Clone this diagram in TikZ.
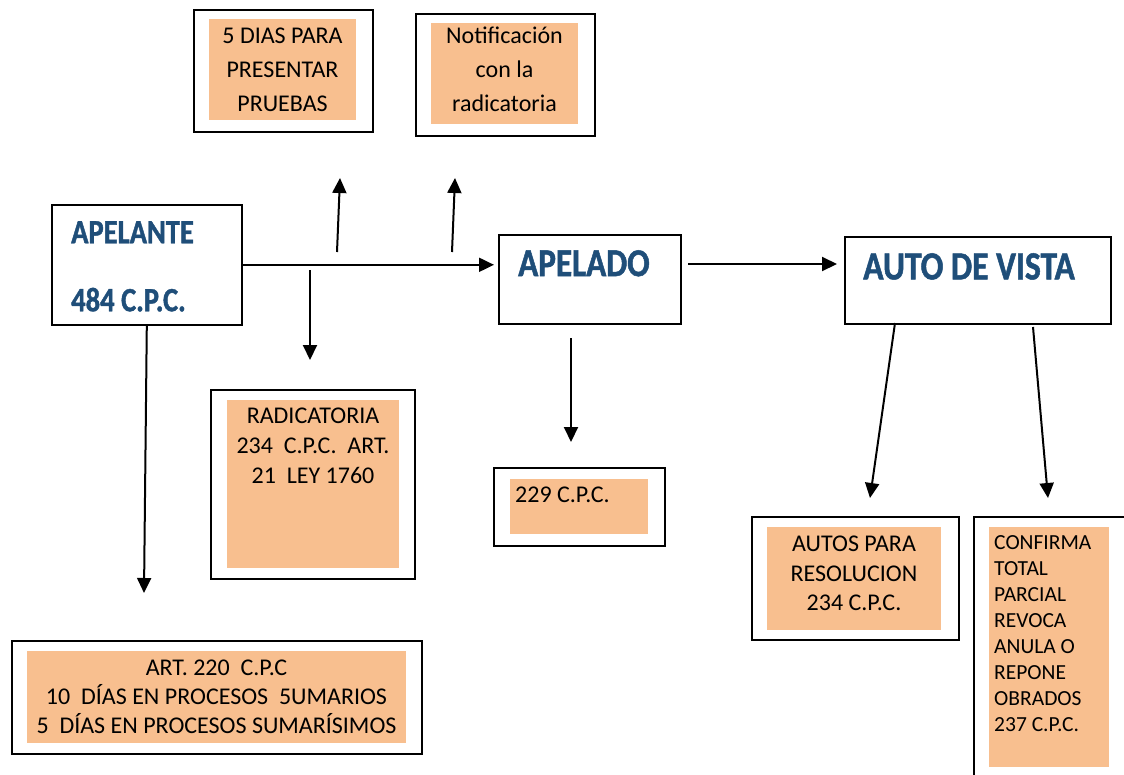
\documentclass[tikz,border=0pt]{standalone}
\usepackage{fontspec}
\setmainfont{Carlito}
\newfontfamily\headfont[FakeStretch=0.84,FakeBold=1.2]{Carlito}
\usetikzlibrary{arrows.meta}
\definecolor{boxorange}{HTML}{F8BF8F}
\definecolor{headblue}{HTML}{1F4E79}
\begin{document}
\begin{tikzpicture}[x=1pt,y=-1pt,
  outerbox/.style={draw=black, line width=2pt, anchor=north west, inner sep=0pt},
  mainbox/.style={draw=black, line width=1.6pt, anchor=north west, inner sep=0pt},
  fillbox/.style={fill=boxorange, draw=none, anchor=north west, inner sep=0pt},
  bodytxt/.style={inner sep=0pt, font=\fontsize{24}{30}\selectfont, align=center},
  headtxt/.style={inner sep=0pt, anchor=north west, text=headblue, font=\headfont\bfseries},
  arr/.style={line width=2pt, -{Triangle[length=15pt,width=14pt]}}
]
\useasboundingbox (0,0) rectangle (1124,774);
\clip (0,0) rectangle (1124,774);

% top boxes
\node[outerbox, minimum width=179, minimum height=122] (b1) at (193,9) {};
\node[fillbox, minimum width=147, minimum height=101] (i1) at (209,19) {};
\node[bodytxt, anchor=north, font=\fontsize{24}{34}\selectfont] (t1) at (282.5,28) {5 DIAS PARA\\PRESENTAR\\PRUEBAS};

\node[outerbox, minimum width=179, minimum height=122] (b2) at (415,13) {};
\node[fillbox, minimum width=147, minimum height=101] (i2) at (431,23) {};
\node[bodytxt, anchor=north, font=\fontsize{24}{34}\selectfont] (t2) at (504.5,27) {Notificación\\con la\\radicatoria};

% APELANTE
\node[mainbox, minimum width=190, minimum height=120] (apelante) at (51,204) {};
\node[headtxt, font=\headfont\bfseries\fontsize{34}{68}\selectfont, align=left] (tap) at (71,221) {APELANTE\\484 C.P.C.};

% RADICATORIA
\node[outerbox, minimum width=204, minimum height=189] (b3) at (210,389) {};
\node[fillbox, minimum width=172, minimum height=168] (i3) at (227,400) {};
\node[bodytxt, anchor=north] (t3) at (313,408) {RADICATORIA\\234\ \ C.P.C.\ \ ART.\\21\ \ LEY 1760};

% APELADO
\node[mainbox, minimum width=182, minimum height=89] (apelado) at (498,234) {};
\node[headtxt, font=\headfont\bfseries\fontsize{39.5}{48}\selectfont] (tapd) at (518,250) {APELADO};

% 229
\node[outerbox, minimum width=171, minimum height=78] (b4) at (493,467) {};
\node[fillbox, minimum width=138, minimum height=55] (i4) at (510,479) {};
\node[bodytxt, anchor=north west] (t4) at (515,487) {229 C.P.C.};

% AUTO DE VISTA
\node[mainbox, minimum width=266, minimum height=87] (auto) at (844,236) {};
\node[headtxt, font=\headfont\bfseries\fontsize{40}{48}\selectfont] (tauto) at (863,253) {AUTO DE VISTA};

% AUTOS PARA RESOLUCION
\node[outerbox, minimum width=207, minimum height=123] (b5) at (751,516) {};
\node[fillbox, minimum width=174, minimum height=103] (i5) at (767,527) {};
\node[bodytxt, anchor=north, font=\fontsize{24}{29.5}\selectfont] (t5) at (854,536) {AUTOS PARA\\RESOLUCION\\234 C.P.C.};

% CONFIRMA
\node[outerbox, minimum width=170, minimum height=280] (b6) at (973,516) {};
\node[fillbox, minimum width=120, minimum height=240] (i6) at (989,527) {};
\node[bodytxt, anchor=north west, align=left, font=\fontsize{21.5}{26}\selectfont] (t6) at (994,535) {CONFIRMA\\TOTAL\\PARCIAL\\REVOCA\\ANULA O\\REPONE\\OBRADOS\\237 C.P.C.};

% bottom box
\node[outerbox, minimum width=410, minimum height=113] (b7) at (11,640) {};
\node[fillbox, minimum width=379, minimum height=92] (i7) at (27,651) {};
\node[bodytxt, anchor=north, font=\fontsize{24}{29}\selectfont] (t7) at (216.5,660) {ART. 220\ \ C.P.C\\10\ \ DÍAS EN PROCESOS\ \ 5UMARIOS\\5\ \ DÍAS EN PROCESOS SUMARÍSIMOS};

% coordinates for free ends
\coordinate (u1s) at (337,252);
\coordinate (u1e) at (340,178);
\coordinate (u2s) at (452,252);
\coordinate (u2e) at (455,178);
\coordinate (d1s) at (310,270);
\coordinate (d1e) at (310,360);
\coordinate (d2e) at (144,593);
\coordinate (d3s) at (571,338);
\coordinate (d3e) at (571,442);
\coordinate (h2s) at (688,264);
\coordinate (h2e) at (837,264);
\coordinate (a1s) at (895,323);
\coordinate (a1e) at (870,498);
\coordinate (a2s) at (1033,327);
\coordinate (a2e) at (1048,498);

% connectors
\draw[arr, shorten >=4pt] (apelante.east) -- (apelante.east -| apelado.west);
\draw[arr] (u1s) -- (u1e);
\draw[arr] (u2s) -- (u2e);
\draw[arr] (d1s) -- (d1e);
\draw[arr] (apelante.south) -- (d2e);
\draw[arr] (d3s) -- (d3e);
\draw[arr] (h2s) -- (h2e);
\draw[arr] (a1s) -- (a1e);
\draw[arr] (a2s) -- (a2e);
\end{tikzpicture}
\end{document}
